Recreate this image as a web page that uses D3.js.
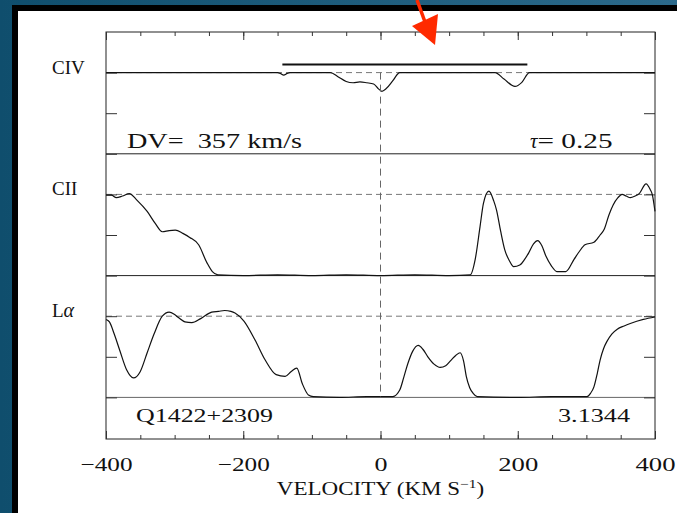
<!DOCTYPE html>
<html>
<head>
<meta charset="utf-8">
<script src="https://cdn.jsdelivr.net/npm/d3@7"></script>
<style>
  html, body { margin: 0; padding: 0; background: #15557a; }
  svg text { font-family: "Liberation Serif", "Times New Roman", serif; fill: #111; white-space: pre; }
</style>
</head>
<body>
<script>
// velocity spectra, [velocity km/s, normalised flux]
const civ = [[-400, 1], [-150, 1], [-146, 0.99], [-141, 0.97], [-136, 0.99], [-132, 1],
  [-73, 1], [-62, 0.95], [-50, 0.89], [-40, 0.875], [-30, 0.885], [-20, 0.875], [-10, 0.86],
  [-3, 0.8], [2, 0.77], [8, 0.8], [18, 0.9], [28, 1], [167, 1], [180, 0.92], [196, 0.83],
  [206, 0.88], [217, 1], [400, 1]];

const cii = [[-400, 0.99], [-392, 0.99], [-385, 0.96], [-376, 0.98], [-366, 1.01], [-355, 0.93],
  [-340, 0.79], [-328, 0.64], [-318, 0.54], [-308, 0.555], [-299, 0.56], [-288, 0.52],
  [-278, 0.47], [-265, 0.38], [-253, 0.16], [-245, 0.05], [-237, 0.01], [-200, 0.0],
  [-150, 0.01], [-100, 0.0], [-50, 0.01], [0, 0.0], [50, 0.01], [100, 0.0], [131, 0.01],
  [138, 0.2], [145, 0.6], [150, 0.89], [158, 1.04], [165, 0.92], [169, 0.81], [175, 0.55],
  [181, 0.32], [188, 0.18], [194, 0.11], [203, 0.13], [210, 0.2], [216, 0.28], [223, 0.39],
  [229, 0.43], [235, 0.37], [241, 0.24], [249, 0.12], [257, 0.05], [270, 0.05], [282, 0.2],
  [290, 0.3], [298, 0.38], [311, 0.41], [320, 0.5], [326, 0.57], [333, 0.75], [339, 0.87],
  [346, 0.96], [352, 1.0], [358, 0.98], [364, 0.96], [371, 0.98], [377, 1.01], [387, 1.13],
  [393, 1.06], [396, 1.0], [400, 0.79]];

const lya = [[-400, 0.96], [-395, 0.93], [-388, 0.78], [-380, 0.58], [-370, 0.34], [-360, 0.24],
  [-350, 0.32], [-340, 0.55], [-330, 0.78], [-318, 1.0], [-308, 1.05], [-300, 1.02],
  [-294, 0.98], [-285, 0.93], [-275, 0.92], [-262, 0.97], [-246, 1.05], [-236, 1.06],
  [-227, 1.07], [-218, 1.06], [-212, 1.04], [-199, 0.94], [-183, 0.71], [-168, 0.46],
  [-152, 0.28], [-139, 0.26], [-130, 0.32], [-122, 0.36], [-114, 0.17], [-105, 0.03],
  [-98, 0.01], [-60, 0.0], [-20, 0.01], [18, 0.01], [28, 0.09], [34, 0.25], [40, 0.42],
  [47, 0.57], [55, 0.64], [62, 0.59], [69, 0.5], [78, 0.41], [87, 0.37], [95, 0.39],
  [103, 0.46], [110, 0.52], [116, 0.55], [121, 0.45], [125, 0.26], [130, 0.12], [135, 0.05],
  [141, 0.01], [200, 0.0], [250, 0.01], [301, 0.01], [306, 0.05], [311, 0.13], [316, 0.3],
  [320, 0.46], [325, 0.6], [330, 0.69], [337, 0.78], [345, 0.84], [355, 0.88], [364, 0.91],
  [383, 0.96], [400, 0.99]];

// ion name split into roman part and italic greek part
const panelNames = [["CIV", ""], ["CII", ""], ["L", "α"]];
const panelData = [civ, cii, lya];
const majorTicks = [-400, -200, 0, 200, 400];
const minorTicks = d3.range(-400, 401, 50);
const fluxTicks = [0, 0.5, 1];
const dvRange = [-143, 214];   // bar over the CIV absorption
const dvText = "DV=  357 km/s";
const tauText = "= 0.25";
const qsoName = "Q1422+2309";
const zabs = "3.1344";

const W = 677, H = 513;
const plotL = 106, plotR = 655, plotT = 32, panelH = 121.8, plotB = 439;

const svg = d3.select("body").append("svg")
  .attr("width", W).attr("height", H);

// backdrop: blue slide, black edge, white page
const grad = svg.append("defs").append("linearGradient").attr("id", "bg")
  .attr("x1", 0).attr("x2", 1).attr("y1", 0).attr("y2", 0);
grad.append("stop").attr("offset", 0).attr("stop-color", "#0f4e6d");
grad.append("stop").attr("offset", 1).attr("stop-color", "#2c6a8b");
svg.append("rect").attr("width", W).attr("height", H).attr("fill", "url(#bg)");
svg.append("rect").attr("x", 12).attr("y", 5).attr("width", W - 12).attr("height", H - 5).attr("fill", "#000");
svg.append("rect").attr("x", 18).attr("y", 11).attr("width", W - 18).attr("height", H - 11).attr("fill", "#fff");

const x = d3.scaleLinear().domain([-400, 400]).range([plotL, plotR]);

const line = d3.line().curve(d3.curveMonotoneX);

panelData.forEach((data, i) => {
  const y0 = plotT + i * panelH;
  const y = d3.scaleLinear().domain([0, 1.5]).range([y0 + panelH, y0]);
  const g = svg.append("g");

  // continuum
  g.append("line")
    .attr("x1", plotL).attr("x2", plotR)
    .attr("y1", y(1)).attr("y2", y(1))
    .attr("stroke", "#777").attr("stroke-width", 1).attr("stroke-dasharray", "6,4");
  // zero level / panel separator
  g.append("line")
    .attr("x1", plotL).attr("x2", plotR)
    .attr("y1", y(0)).attr("y2", y(0))
    .attr("stroke", i < 2 ? "#222" : "#666").attr("stroke-width", 1);

  g.append("g").attr("transform", `translate(${plotL},0)`)
    .call(d3.axisRight(y).tickValues(fluxTicks).tickSize(11).tickFormat(""))
    .call(a => a.select(".domain").remove())
    .selectAll("line").attr("stroke", "#444");
  g.append("g").attr("transform", `translate(${plotR},0)`)
    .call(d3.axisLeft(y).tickValues(fluxTicks).tickSize(11).tickFormat(""))
    .call(a => a.select(".domain").remove())
    .selectAll("line").attr("stroke", "#444");

  g.append("path")
    .attr("d", line(data.map(d => [x(d[0]), y(d[1])])))
    .attr("fill", "none").attr("stroke", "#111").attr("stroke-width", 1.2);

  const lbl = g.append("text")
    .attr("x", 52).attr("y", y(1) + 1)
    .attr("font-size", 19);
  lbl.append("tspan").text(panelNames[i][0]);
  lbl.append("tspan").attr("font-style", "italic").attr("font-size", 20).text(panelNames[i][1]);

  if (i === 0) {
    g.append("line")
      .attr("x1", x(dvRange[0])).attr("x2", x(dvRange[1]))
      .attr("y1", y(1) - 8).attr("y2", y(1) - 8)
      .attr("stroke", "#111").attr("stroke-width", 2);
  }
});

// v = 0 marker
const yc = plotT + panelH - panelH / 1.5;
svg.append("line")
  .attr("x1", x(0)).attr("x2", x(0))
  .attr("y1", yc).attr("y2", plotT + 3 * panelH)
  .attr("stroke", "#666").attr("stroke-width", 1).attr("stroke-dasharray", "7,5");

// frame
svg.append("rect")
  .attr("x", plotL).attr("y", plotT).attr("width", plotR - plotL).attr("height", plotB - plotT)
  .attr("fill", "none").attr("stroke", "#222").attr("stroke-width", 1);

// top and bottom ticks
svg.append("g").attr("transform", `translate(0,${plotT})`)
  .call(d3.axisTop(x).tickValues(minorTicks).tickSize(-4).tickFormat(""))
  .call(a => a.select(".domain").remove());
svg.append("g").attr("transform", `translate(0,${plotT})`)
  .call(d3.axisTop(x).tickValues(majorTicks).tickSize(-8).tickFormat(""))
  .call(a => a.select(".domain").remove());
svg.append("g").attr("transform", `translate(0,${plotB})`)
  .call(d3.axisBottom(x).tickValues(minorTicks).tickSize(-4).tickFormat(""))
  .call(a => a.select(".domain").remove());
const xAxis = svg.append("g").attr("transform", `translate(0,${plotB})`)
  .call(d3.axisBottom(x).tickValues(majorTicks).tickSize(-8).tickPadding(19))
  .call(a => a.select(".domain").remove());
xAxis.selectAll("text")
  .attr("font-size", 19)
  .attr("font-family", "Liberation Serif, serif")
  .attr("fill", "#111")
  .attr("textLength", d => d < 0 ? 52 : (d === 0 ? 13 : 40))
  .attr("lengthAdjust", "spacingAndGlyphs");
svg.selectAll(".tick line").attr("stroke", "#333");

// in-panel annotations
svg.append("text").attr("x", 127).attr("y", 148).attr("font-size", 21)
  .attr("textLength", 175).attr("lengthAdjust", "spacingAndGlyphs").text(dvText);
const tau = svg.append("text").attr("x", 530).attr("y", 148).attr("font-size", 21);
tau.append("tspan").attr("font-style", "italic").text("τ");
tau.append("tspan").attr("textLength", 75).attr("lengthAdjust", "spacingAndGlyphs").text(tauText);
svg.append("text").attr("x", 136).attr("y", 422).attr("font-size", 18)
  .attr("textLength", 137).attr("lengthAdjust", "spacingAndGlyphs").text(qsoName);
svg.append("text").attr("x", 558).attr("y", 422).attr("font-size", 18)
  .attr("textLength", 72).attr("lengthAdjust", "spacingAndGlyphs").text(zabs);

// axis title, widened like the plotting-package font
const title = svg.append("g")
  .attr("transform", `translate(${x(0)},495) scale(1.28,1)`)
  .append("text")
  .attr("text-anchor", "middle")
  .attr("font-size", 18);
title.append("tspan").text("VELOCITY (KM S");
title.append("tspan").attr("dy", -7).attr("font-size", 12).text("−1");
title.append("tspan").attr("dy", 7).text(")");

// red arrow pointing at the system
svg.append("line")
  .attr("x1", 417).attr("y1", 0).attr("x2", 425).attr("y2", 22)
  .attr("stroke", "#ff2a00").attr("stroke-width", 3.5);
svg.append("path")
  .attr("d", "M412,26 L438,14 L435,45 Z")
  .attr("fill", "#ff2a00");
</script>
</body>
</html>
